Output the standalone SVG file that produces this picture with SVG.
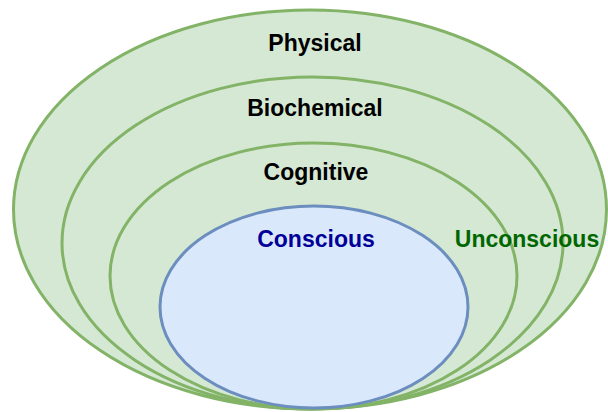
<svg xmlns="http://www.w3.org/2000/svg" width="608" height="412" viewBox="0 0 608 412">
<style>
.g{fill:#d5e8d4;stroke:#82b366;stroke-width:3}
.b{fill:#dae8fc;stroke:#6c8ebf;stroke-width:3}
text{font-family:"Liberation Sans",Arial,sans-serif;font-weight:bold;font-size:23px;text-anchor:middle}
</style>
<rect width="608" height="412" fill="#ffffff"/>
<g id="physical"><ellipse class="g" cx="310" cy="209.5" rx="296.5" ry="199.5"/><text x="315" y="51" fill="#000000">Physical</text></g>
<g id="biochemical"><ellipse class="g" cx="312.5" cy="243" rx="250.5" ry="166"/><text x="315" y="116" fill="#000000">Biochemical</text></g>
<g id="cognitive"><ellipse class="g" cx="313.5" cy="276" rx="203.5" ry="133"/><text x="316" y="180" fill="#000000">Cognitive</text></g>
<g id="conscious"><ellipse class="b" cx="314" cy="307" rx="154" ry="101"/><text x="316" y="247" fill="#000099">Conscious</text></g>
<g id="unconscious"><text x="527" y="247" fill="#006600">Unconscious</text></g>
<g id="connectors"></g>
</svg>
